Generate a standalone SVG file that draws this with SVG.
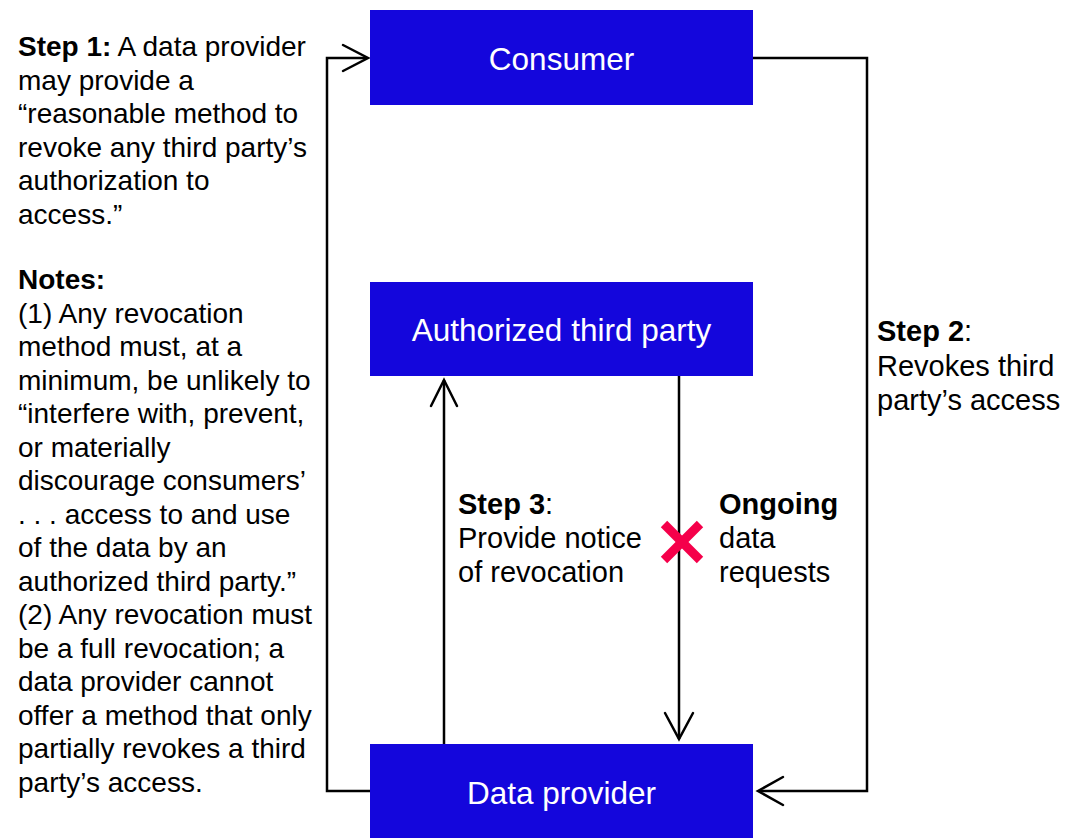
<svg xmlns="http://www.w3.org/2000/svg" width="1065" height="838" viewBox="0 0 1065 838">
  <style>
    .box { fill: #1406DC; }
    .boxlabel { fill: #ffffff; font-family: "Liberation Sans", Arial, sans-serif; font-size: 31.5px; text-anchor: middle; }
    .note { fill: #000000; font-family: "Liberation Sans", Arial, sans-serif; font-size: 28px; }
    .label { fill: #000000; font-family: "Liberation Sans", Arial, sans-serif; font-size: 29px; }
    .b { font-weight: bold; }
    .wire { fill: none; stroke: #000000; stroke-width: 2.5; }
    .head { fill: none; stroke: #000000; stroke-width: 2.5; stroke-linecap: round; stroke-linejoin: miter; }
    .cross { stroke: #F5004A; stroke-width: 9; }
  </style>

  <rect width="1065" height="838" fill="#ffffff"/>

  <!-- Connectors -->
  <g id="connectors">
    <!-- Step 1: data provider back round to consumer -->
    <polyline class="wire" points="370,791 327,791 327,58 367,58"/>
    <polyline class="head" points="343,45 368,58 343,71"/>
    <!-- Step 2: consumer over to data provider -->
    <polyline class="wire" points="753,58 867,58 867,791 759,791"/>
    <polyline class="head" points="783,777 758,791 783,805"/>
    <!-- Step 3: notice from data provider up to third party -->
    <line class="wire" x1="444" y1="744" x2="444" y2="380"/>
    <polyline class="head" points="431,406 444,380 457,406"/>
    <!-- Ongoing data requests, third party down to data provider -->
    <line class="wire" x1="679" y1="376" x2="679" y2="739"/>
    <polyline class="head" points="665,713 679,739 693,713"/>
    <!-- blocked marker -->
    <g id="blocked">
      <line class="cross" x1="664" y1="524" x2="700" y2="560"/>
      <line class="cross" x1="700" y1="524" x2="664" y2="560"/>
    </g>
  </g>

  <!-- Nodes -->
  <g id="consumer">
    <rect class="box" x="370" y="10" width="383" height="95"/>
    <text class="boxlabel" x="561.5" y="70">Consumer</text>
  </g>
  <g id="third-party">
    <rect class="box" x="370" y="282" width="383" height="94"/>
    <text class="boxlabel" x="561.5" y="341">Authorized third party</text>
  </g>
  <g id="data-provider">
    <rect class="box" x="370" y="744" width="383" height="94"/>
    <text class="boxlabel" x="561.5" y="804">Data provider</text>
  </g>

  <!-- Step labels -->
  <g id="step2-label" class="label">
    <text x="877" y="341"><tspan class="b">Step 2</tspan>:</text>
    <text x="877" y="376">Revokes third</text>
    <text x="877" y="410">party’s access</text>
  </g>
  <g id="step3-label" class="label">
    <text x="458" y="514"><tspan class="b">Step 3</tspan>:</text>
    <text x="458" y="548">Provide notice</text>
    <text x="458" y="582">of revocation</text>
  </g>
  <g id="ongoing-label" class="label">
    <text x="719" y="514" class="b">Ongoing</text>
    <text x="719" y="548">data</text>
    <text x="719" y="582">requests</text>
  </g>

  <!-- Side notes -->
  <g id="side-notes" class="note">
    <text x="18" y="56"><tspan class="b">Step 1:</tspan> A data provider</text>
    <text x="18" y="89.5">may provide a</text>
    <text x="18" y="123">“reasonable method to</text>
    <text x="18" y="156.5">revoke any third party’s</text>
    <text x="18" y="190">authorization to</text>
    <text x="18" y="223.5">access.”</text>
    <text x="18" y="289" class="b">Notes:</text>
    <text x="18" y="322.5">(1) Any revocation</text>
    <text x="18" y="356">method must, at a</text>
    <text x="18" y="389.5">minimum, be unlikely to</text>
    <text x="18" y="423">“interfere with, prevent,</text>
    <text x="18" y="456.5">or materially</text>
    <text x="18" y="490">discourage consumers’</text>
    <text x="18" y="523.5">. . . access to and use</text>
    <text x="18" y="557">of the data by an</text>
    <text x="18" y="590.5">authorized third party.”</text>
    <text x="18" y="624">(2) Any revocation must</text>
    <text x="18" y="657.5">be a full revocation; a</text>
    <text x="18" y="691">data provider cannot</text>
    <text x="18" y="724.5">offer a method that only</text>
    <text x="18" y="758">partially revokes a third</text>
    <text x="18" y="791.5">party’s access.</text>
  </g>
</svg>
